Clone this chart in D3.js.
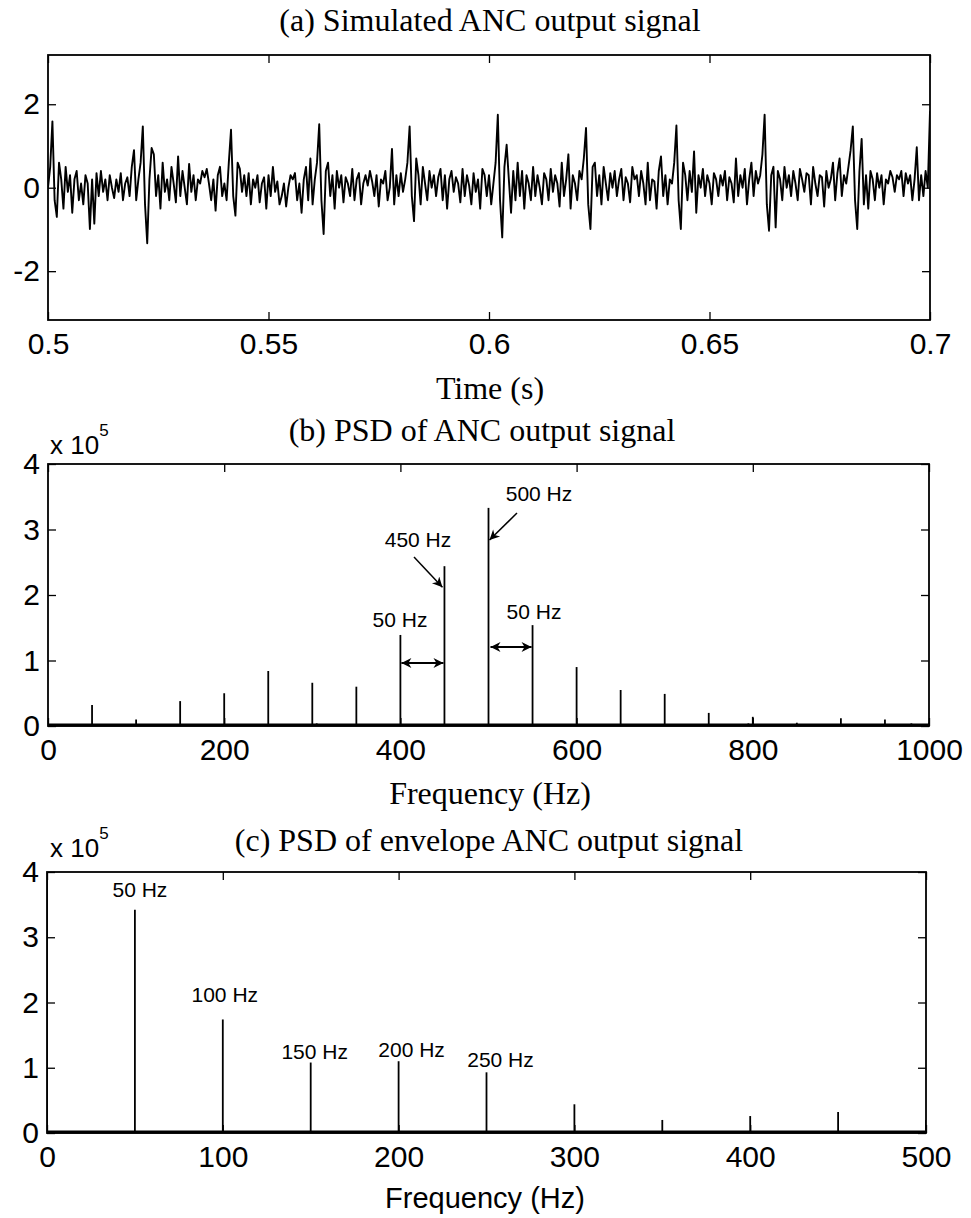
<!DOCTYPE html>
<html>
<head>
<meta charset="utf-8">
<script src="https://cdn.jsdelivr.net/npm/d3@7"></script>
<style>
  body { margin: 0; background: #fff; }
  .serif { font-family: "Liberation Serif", "Times New Roman", serif; }
  .sans { font-family: "Liberation Sans", Arial, sans-serif; }
</style>
</head>
<body>
<svg id="chart" width="971" height="1218"></svg>
<script>
// (a) ANC output signal, sampled every 0.5 ms from 0.5 s to 0.7 s
var tStart = 0.5, tStep = 0.0005;
var signalA = [
  0.0, 0.5, 1.59, -0.3, -0.7, 0.6, 0.2, -0.5, 0.5, -0.1, 0.3, -0.6, 0.2, 0.4, -0.3, 0.1, -0.4, 0.3, 0.1, -0.99,
  0.2, -0.86, 0.35, -0.2, 0.4, -0.1, 0.2, -0.3, 0.3, 0.0, -0.25, 0.2, -0.1, 0.35, -0.3, 0.1, 0.25, -0.2, 0.5, 0.9,
  -0.3, 0.2, 0.6, 1.47, -0.4, -1.33, 0.2, 0.95, 0.8, -0.2, 0.3, -0.5, 0.6, -0.1, 0.2, -0.3, 0.5, 0.1, -0.35, 0.75,
  -0.2, 0.4, 0.0, -0.4, 0.57, -0.1, 0.3, -0.3, 0.2, 0.1, 0.4, 0.25, 0.45, 0.1, -0.3, 0.2, -0.55, 0.3, 0.5, -0.2,
  0.1, -0.3, 0.6, 1.39, -0.2, -0.67, 0.6, 0.45, -0.1, 0.3, -0.2, 0.35, -0.4, 0.2, 0.0, 0.3, -0.35, 0.1, 0.25, -0.5,
  0.3, -0.2, 0.5, -0.1, 0.15, -0.4, -0.2, 0.1, -0.45, 0.0, 0.3, 0.2, 0.35, -0.3, 0.1, -0.6, 0.2, 0.5, -0.3, 0.7,
  -0.4, 0.2, 0.6, 1.52, -0.3, -1.11, 0.4, 0.6, -0.2, 0.3, -0.5, 0.4, 0.0, 0.3, -0.35, 0.25, 0.1, -0.2, 0.45, -0.3,
  0.2, 0.35, -0.4, 0.1, 0.3, 0.05, 0.4, 0.15, -0.2, 0.3, -0.45, 0.2, 0.1, 0.4, -0.3, 0.0, 0.93, -0.4, 0.3, -0.2,
  0.35, -0.1, 0.2, 0.6, 1.47, -0.2, -0.8, 0.7, 0.3, -0.4, 0.5, 0.1, -0.3, 0.4, 0.0, 0.3, -0.2, 0.25, 0.45, -0.3,
  0.3, -0.5, 0.2, 0.4, -0.1, 0.25, 0.1, -0.35, 0.45, -0.2, 0.3, 0.05, -0.4, 0.35, -0.1, 0.2, -0.5, 0.45, 0.3, -0.2,
  0.3, -0.4, 0.1, 0.6, 1.75, -0.3, -1.19, 0.5, 1.03, 0.2, -0.6, 0.4, -0.3, 0.6, -0.2, 0.4, -0.5, 0.3, 0.1, -0.3,
  0.5, -0.2, 0.3, 0.0, -0.4, 0.35, 0.2, -0.3, 0.45, -0.1, 0.3, 0.1, -0.45, 0.6, -0.2, 0.2, 0.8, -0.5, 0.3, 0.1,
  -0.3, 0.4, 0.2, 0.7, 1.43, -0.4, -0.99, 0.5, 0.6, -0.2, 0.3, -0.4, 0.5, 0.1, -0.3, 0.35, 0.0, 0.4, -0.2, 0.2,
  0.45, -0.3, 0.25, 0.1, -0.35, 0.5, 0.2, 0.3, -0.2, 0.4, 0.1, -0.4, 0.6, -0.3, 0.2, 0.15, -0.5, 0.4, 0.75, -0.2,
  0.3, -0.4, 0.2, 0.1, 0.6, 1.49, -0.3, -0.99, 0.6, 0.3, -0.3, 0.4, -0.1, 0.87, -0.6, 0.3, 0.0, 0.45, -0.2, 0.3,
  0.1, -0.4, 0.35, 0.2, -0.2, 0.3, 0.05, 0.4, -0.3, 0.25, 0.1, -0.35, 0.7, -0.2, 0.3, 0.0, 0.45, -0.4, 0.2, 0.6,
  -0.2, 0.4, 0.1, 0.3, 0.8, 1.75, -0.4, -1.03, 0.3, 0.5, -0.95, 0.4, 0.2, -0.3, 0.5, 0.0, 0.3, -0.2, 0.4, 0.1,
  -0.3, 0.45, 0.2, -0.1, 0.35, 0.3, -0.4, 0.5, 0.1, -0.2, 0.3, 0.25, -0.45, 0.4, 0.0, 0.2, 0.6, -0.3, 0.35, 0.7,
  -0.2, 0.3, 0.1, 0.5, 0.9, 1.47, -0.3, -0.99, 0.4, 1.17, -0.4, 0.3, -0.5, 0.4, 0.2, -0.3, 0.35, 0.0, 0.3, -0.4,
  0.2, 0.1, 0.4, 0.25, -0.1, 0.3, 0.2, 0.4, -0.2, 0.35, 0.1, 0.3, -0.3, 0.2, 0.97, -0.3, 0.3, -0.2, 0.4, 0.0,
  1.83
];
var ticksA_x = [0.5, 0.55, 0.6, 0.65, 0.7];
var ticksA_y = [-2, 0, 2];

// (b) PSD of ANC output signal (x 10^5)
var freqB  = [50, 100, 150, 170, 200, 250, 300, 305, 350, 400, 450, 500, 550, 600, 650, 700, 750, 795, 800, 850, 900, 950, 980, 1000];
var powerB = [0.32, 0.1, 0.38, 0.03, 0.5, 0.84, 0.66, 0.04, 0.6, 1.39, 2.44, 3.33, 1.54, 0.9, 0.55, 0.49, 0.2, 0.04, 0.14, 0.05, 0.12, 0.1, 0.04, 0.05];
var floorB = 0.015;
var ticksB_x = [0, 200, 400, 600, 800, 1000];
var ticksB_y = [0, 1, 2, 3, 4];

// (c) PSD of envelope (x 10^5)
var freqC  = [0, 45, 50, 95, 100, 130, 150, 190, 200, 250, 300, 350, 360, 400, 420, 450, 470, 500];
var powerC = [4.1, 0.03, 3.42, 0.03, 1.74, 0.02, 1.08, 0.02, 1.1, 0.93, 0.44, 0.2, 0.02, 0.26, 0.02, 0.32, 0.02, 0.2];
var floorC = 0.015;
var ticksC_x = [0, 100, 200, 300, 400, 500];
var ticksC_y = [0, 1, 2, 3, 4];

var labelsB = ["50 Hz", "450 Hz", "500 Hz", "50 Hz"];
var labelsC = ["50 Hz", "100 Hz", "150 Hz", "200 Hz", "250 Hz"];
var labelsC_freq = [50, 100, 150, 200, 250];

var svg = d3.select("#chart");

var defs = svg.append("defs");
defs.append("marker")
  .attr("id", "head")
  .attr("viewBox", "0 0 10 10")
  .attr("refX", 10).attr("refY", 5)
  .attr("markerWidth", 14).attr("markerHeight", 10)
  .attr("markerUnits", "userSpaceOnUse")
  .attr("orient", "auto-start-reverse")
  .append("path")
  .attr("d", "M0,0 L10,5 L0,10 L3,5 Z")
  .attr("fill", "#000");

// plain hyphen for negative numbers, like the matlab figure
function num(d) {
  return String(+d.toFixed(2));
}

// Draws a MATLAB style box with inward ticks on all four sides
function drawFrame(g, x, y, xTicks, yTicks, tickFont) {
  var tickLen = 8;
  var x0 = x.range()[0], x1 = x.range()[1];
  var y0 = y.range()[0], y1 = y.range()[1];

  var bottom = g.append("g").attr("transform", "translate(0," + y0 + ")")
    .call(d3.axisBottom(x).tickValues(xTicks).tickSize(-tickLen).tickPadding(13).tickFormat(num));
  var left = g.append("g").attr("transform", "translate(" + x0 + ",0)")
    .call(d3.axisLeft(y).tickValues(yTicks).tickSize(-tickLen).tickPadding(8).tickFormat(num));
  g.append("g").attr("transform", "translate(0," + y1 + ")")
    .call(d3.axisTop(x).tickValues(xTicks).tickSize(-tickLen).tickFormat(""));
  g.append("g").attr("transform", "translate(" + x1 + ",0)")
    .call(d3.axisRight(y).tickValues(yTicks).tickSize(-tickLen).tickFormat(""));

  g.selectAll(".domain").remove();
  g.selectAll(".tick line").attr("stroke", "#000").attr("stroke-width", 1.3);
  [bottom, left].forEach(function(a) {
    a.selectAll("text")
      .attr("fill", "#000")
      .style("font-family", "'Liberation Sans', Arial, sans-serif")
      .style("font-size", tickFont + "px");
  });

  g.append("rect")
    .attr("x", x0).attr("y", y1)
    .attr("width", x1 - x0).attr("height", y0 - y1)
    .attr("fill", "none").attr("stroke", "#000").attr("stroke-width", 1.8);
}

function drawStems(g, x, y, freqs, powers, floorVal, clipId) {
  g.append("line")
    .attr("x1", x.range()[0]).attr("x2", x.range()[1])
    .attr("y1", y(floorVal)).attr("y2", y(floorVal))
    .attr("stroke", "#000").attr("stroke-width", 3);
  g.append("g").attr("clip-path", "url(#" + clipId + ")")
    .selectAll("line.stem")
    .data(freqs)
    .enter().append("line")
    .attr("class", "stem")
    .attr("x1", function(d) { return x(d); })
    .attr("x2", function(d) { return x(d); })
    .attr("y1", y(0))
    .attr("y2", function(d, i) { return y(powers[i]); })
    .attr("stroke", "#000")
    .attr("stroke-width", 1.8);
}

function addClip(id, x, y) {
  defs.append("clipPath").attr("id", id)
    .append("rect")
    .attr("x", x.range()[0]).attr("y", y.range()[1])
    .attr("width", x.range()[1] - x.range()[0])
    .attr("height", y.range()[0] - y.range()[1]);
}

function serifText(x, y, txt, size) {
  return svg.append("text").attr("class", "serif")
    .attr("x", x).attr("y", y)
    .attr("text-anchor", "middle")
    .style("font-size", size + "px")
    .text(txt);
}

function multiplier(x, y) {
  var t = svg.append("text").attr("class", "sans")
    .attr("x", x).attr("y", y)
    .style("font-size", "26px");
  t.append("tspan").text("x 10");
  t.append("tspan").attr("dy", -18).style("font-size", "17px").text("5");
}

// ---------- Panel (a) ----------
var xA = d3.scaleLinear().domain([0.5, 0.7]).range([48, 930]);
var yA = d3.scaleLinear().domain([-3.17, 3.18]).range([320, 55]);
var gA = svg.append("g");
addClip("clipA", xA, yA);

var lineA = d3.line()
  .x(function(d, i) { return xA(tStart + i * tStep); })
  .y(function(d) { return yA(d); });

gA.append("path")
  .datum(signalA)
  .attr("clip-path", "url(#clipA)")
  .attr("d", lineA)
  .attr("fill", "none")
  .attr("stroke", "#000")
  .attr("stroke-width", 1.9)
  .attr("stroke-linejoin", "round");

drawFrame(gA, xA, yA, ticksA_x, ticksA_y, 30);
serifText(490, 31, "(a) Simulated ANC output signal", 32);
serifText(490, 399, "Time (s)", 32);

// ---------- Panel (b) ----------
var xB = d3.scaleLinear().domain([0, 1000]).range([48, 929]);
var yB = d3.scaleLinear().domain([0, 4]).range([726, 464]);
var gB = svg.append("g");
addClip("clipB", xB, yB);
drawStems(gB, xB, yB, freqB, powerB, floorB, "clipB");
drawFrame(gB, xB, yB, ticksB_x, ticksB_y, 30);
serifText(482, 441, "(b) PSD of ANC output signal", 32);
serifText(490, 804, "Frequency (Hz)", 32);
multiplier(50, 454);

// annotations for panel b
var annB = svg.append("g").attr("class", "sans").style("font-size", "21px");
annB.append("text").attr("x", 400).attr("y", 627).attr("text-anchor", "middle").text(labelsB[0]);
annB.append("text").attr("x", 418).attr("y", 547).attr("text-anchor", "middle").text(labelsB[1]);
annB.append("text").attr("x", 539).attr("y", 501).attr("text-anchor", "middle").text(labelsB[2]);
annB.append("text").attr("x", 534).attr("y", 619).attr("text-anchor", "middle").text(labelsB[3]);

// 450 Hz arrow, 500 Hz arrow
annB.append("line")
  .attr("x1", 414).attr("y1", 557)
  .attr("x2", xB(450) - 2).attr("y2", yB(2.12))
  .attr("stroke", "#000").attr("stroke-width", 1.5)
  .attr("marker-end", "url(#head)");
annB.append("line")
  .attr("x1", 517).attr("y1", 513)
  .attr("x2", xB(500) + 1).attr("y2", yB(2.84))
  .attr("stroke", "#000").attr("stroke-width", 1.5)
  .attr("marker-end", "url(#head)");
// double arrows spanning 50 Hz
annB.append("line")
  .attr("x1", xB(400) + 1).attr("y1", 663)
  .attr("x2", xB(450) - 1).attr("y2", 663)
  .attr("stroke", "#000").attr("stroke-width", 1.8)
  .attr("marker-start", "url(#head)").attr("marker-end", "url(#head)");
annB.append("line")
  .attr("x1", xB(500) + 2).attr("y1", 647)
  .attr("x2", xB(550) - 1).attr("y2", 647)
  .attr("stroke", "#000").attr("stroke-width", 1.8)
  .attr("marker-start", "url(#head)").attr("marker-end", "url(#head)");

// ---------- Panel (c) ----------
var xC = d3.scaleLinear().domain([0, 500]).range([47, 926]);
var yC = d3.scaleLinear().domain([0, 4]).range([1133, 872]);
var gC = svg.append("g");
addClip("clipC", xC, yC);
drawStems(gC, xC, yC, freqC, powerC, floorC, "clipC");
drawFrame(gC, xC, yC, ticksC_x, ticksC_y, 30);
serifText(489, 851, "(c) PSD of envelope ANC output signal", 32);
svg.append("text").attr("class", "sans")
  .attr("x", 485).attr("y", 1208)
  .attr("text-anchor", "middle")
  .style("font-size", "29px")
  .text("Frequency (Hz)");
multiplier(50, 857);

var labelDx = [5, 2, 4, 13, 14];
var labelY = [897, 1002, 1059, 1057, 1067];
svg.append("g").attr("class", "sans").style("font-size", "21px")
  .selectAll("text")
  .data(labelsC)
  .enter().append("text")
  .attr("x", function(d, i) { return xC(labelsC_freq[i]) + labelDx[i]; })
  .attr("y", function(d, i) { return labelY[i]; })
  .attr("text-anchor", "middle")
  .text(function(d) { return d; });
</script>
</body>
</html>
